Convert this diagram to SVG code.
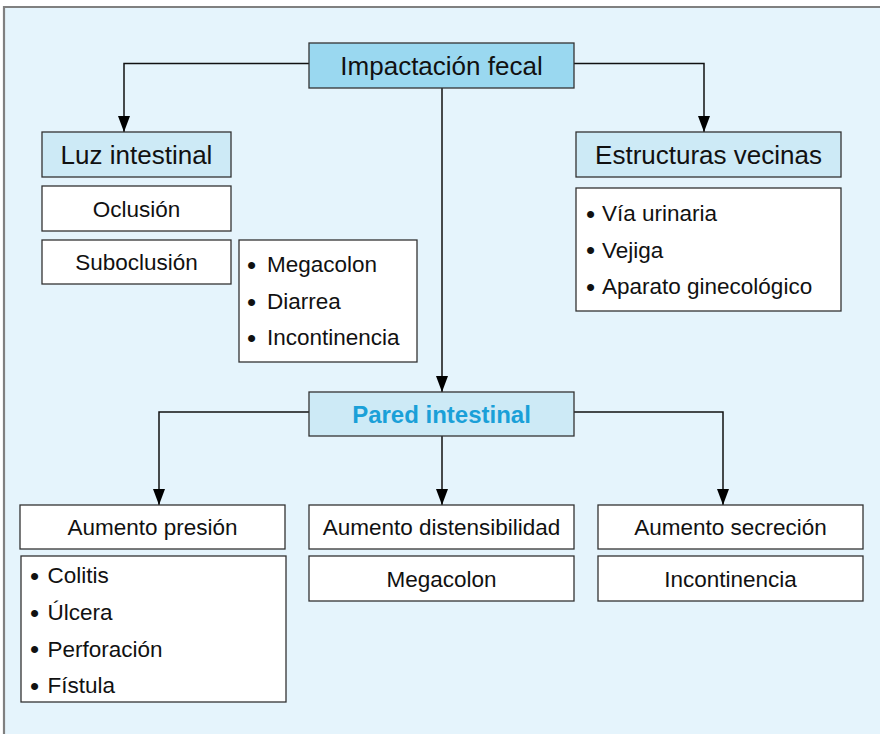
<svg xmlns="http://www.w3.org/2000/svg" width="880" height="734" viewBox="0 0 880 734">
<defs>
<style>
.box{fill:#ffffff;stroke:#333333;stroke-width:1.3}
.hdr{fill:#cdeaf6;stroke:#333333;stroke-width:1.3}
.top{fill:#9ad8f0;stroke:#333333;stroke-width:1.3}
.t{font-family:"Liberation Sans",Arial,sans-serif;font-size:22.5px;fill:#111111}
.b{font-size:26px}
.c{text-anchor:middle}
.h{font-family:"Liberation Sans",Arial,sans-serif;font-size:26px;fill:#111111;text-anchor:middle}
.p{font-family:"Liberation Sans",Arial,sans-serif;font-size:24px;font-weight:bold;fill:#1aa0d8;text-anchor:middle}
.ln{fill:none;stroke:#111111;stroke-width:1.5}
</style>
<marker id="arr" viewBox="0 0 16 12" markerWidth="16" markerHeight="12" refX="16" refY="6" orient="auto" markerUnits="userSpaceOnUse">
<path d="M0,0 L16,6 L0,12 z" fill="#000000"/>
</marker>
</defs>
<rect x="0" y="0" width="880" height="734" fill="#ffffff"/>
<rect x="3" y="6" width="877" height="728" fill="#e5f4fc"/>
<path d="M4,734 V7 H880" fill="none" stroke="#808080" stroke-width="2.2"/>

<g id="connectors">
<path class="ln" d="M309,63.5 H124 V132" marker-end="url(#arr)"/>
<path class="ln" d="M574,63.5 H704 V132" marker-end="url(#arr)"/>
<path class="ln" d="M442,88 V392" marker-end="url(#arr)"/>
<path class="ln" d="M309,412 H159 V505" marker-end="url(#arr)"/>
<path class="ln" d="M442,436 V505" marker-end="url(#arr)"/>
<path class="ln" d="M574,412 H723 V505" marker-end="url(#arr)"/>
</g>

<g id="impactacion">
<rect class="top" x="309" y="43" width="265" height="45"/>
<text class="h" x="441.5" y="75">Impactación fecal</text>
</g>

<g id="luz">
<rect class="hdr" x="42" y="132" width="189" height="45"/>
<text class="h" x="136.5" y="164">Luz intestinal</text>
</g>
<g id="oclusion">
<rect class="box" x="42" y="186" width="189" height="45"/>
<text class="t c" x="136.5" y="217">Oclusión</text>
</g>
<g id="suboclusion">
<rect class="box" x="42" y="240" width="189" height="44"/>
<text class="t c" x="136.5" y="270">Suboclusión</text>
</g>
<g id="luz-lista">
<rect class="box" x="239" y="240" width="178" height="122"/>
<text class="t"><tspan class="b" x="247" y="273.5">•</tspan><tspan x="267" y="272">Megacolon</tspan></text>
<text class="t"><tspan class="b" x="247" y="310.5">•</tspan><tspan x="267" y="309">Diarrea</tspan></text>
<text class="t"><tspan class="b" x="247" y="346.5">•</tspan><tspan x="267" y="345">Incontinencia</tspan></text>
</g>

<g id="estructuras">
<rect class="hdr" x="576" y="132" width="265" height="45"/>
<text class="h" x="708.5" y="164">Estructuras vecinas</text>
</g>
<g id="estructuras-lista">
<rect class="box" x="576" y="188" width="265" height="123"/>
<text class="t"><tspan class="b" x="586" y="222.5">•</tspan><tspan x="602" y="221">Vía urinaria</tspan></text>
<text class="t"><tspan class="b" x="586" y="259">•</tspan><tspan x="602" y="257.5">Vejiga</tspan></text>
<text class="t"><tspan class="b" x="586" y="295.5">•</tspan><tspan x="602" y="294">Aparato ginecológico</tspan></text>
</g>

<g id="pared">
<rect class="hdr" x="309" y="392" width="265" height="44"/>
<text class="p" x="441.5" y="422.5">Pared intestinal</text>
</g>

<g id="presion">
<rect class="box" x="20" y="505" width="265" height="44"/>
<text class="t c" x="152.5" y="535">Aumento presión</text>
</g>
<g id="presion-lista">
<rect class="box" x="21" y="556" width="265" height="146"/>
<text class="t"><tspan class="b" x="30" y="584.5">•</tspan><tspan x="47.5" y="583">Colitis</tspan></text>
<text class="t"><tspan class="b" x="30" y="621.5">•</tspan><tspan x="47.5" y="620">Úlcera</tspan></text>
<text class="t"><tspan class="b" x="30" y="658">•</tspan><tspan x="47.5" y="656.5">Perforación</tspan></text>
<text class="t"><tspan class="b" x="30" y="694.5">•</tspan><tspan x="47.5" y="693">Fístula</tspan></text>
</g>

<g id="distensibilidad">
<rect class="box" x="309" y="505" width="265" height="44"/>
<text class="t c" x="441.5" y="535">Aumento distensibilidad</text>
</g>
<g id="megacolon">
<rect class="box" x="309" y="556" width="265" height="45"/>
<text class="t c" x="441.5" y="587">Megacolon</text>
</g>

<g id="secrecion">
<rect class="box" x="598" y="505" width="265" height="44"/>
<text class="t c" x="730.5" y="535">Aumento secreción</text>
</g>
<g id="incontinencia">
<rect class="box" x="598" y="556" width="265" height="45"/>
<text class="t c" x="730.5" y="587">Incontinencia</text>
</g>
</svg>
